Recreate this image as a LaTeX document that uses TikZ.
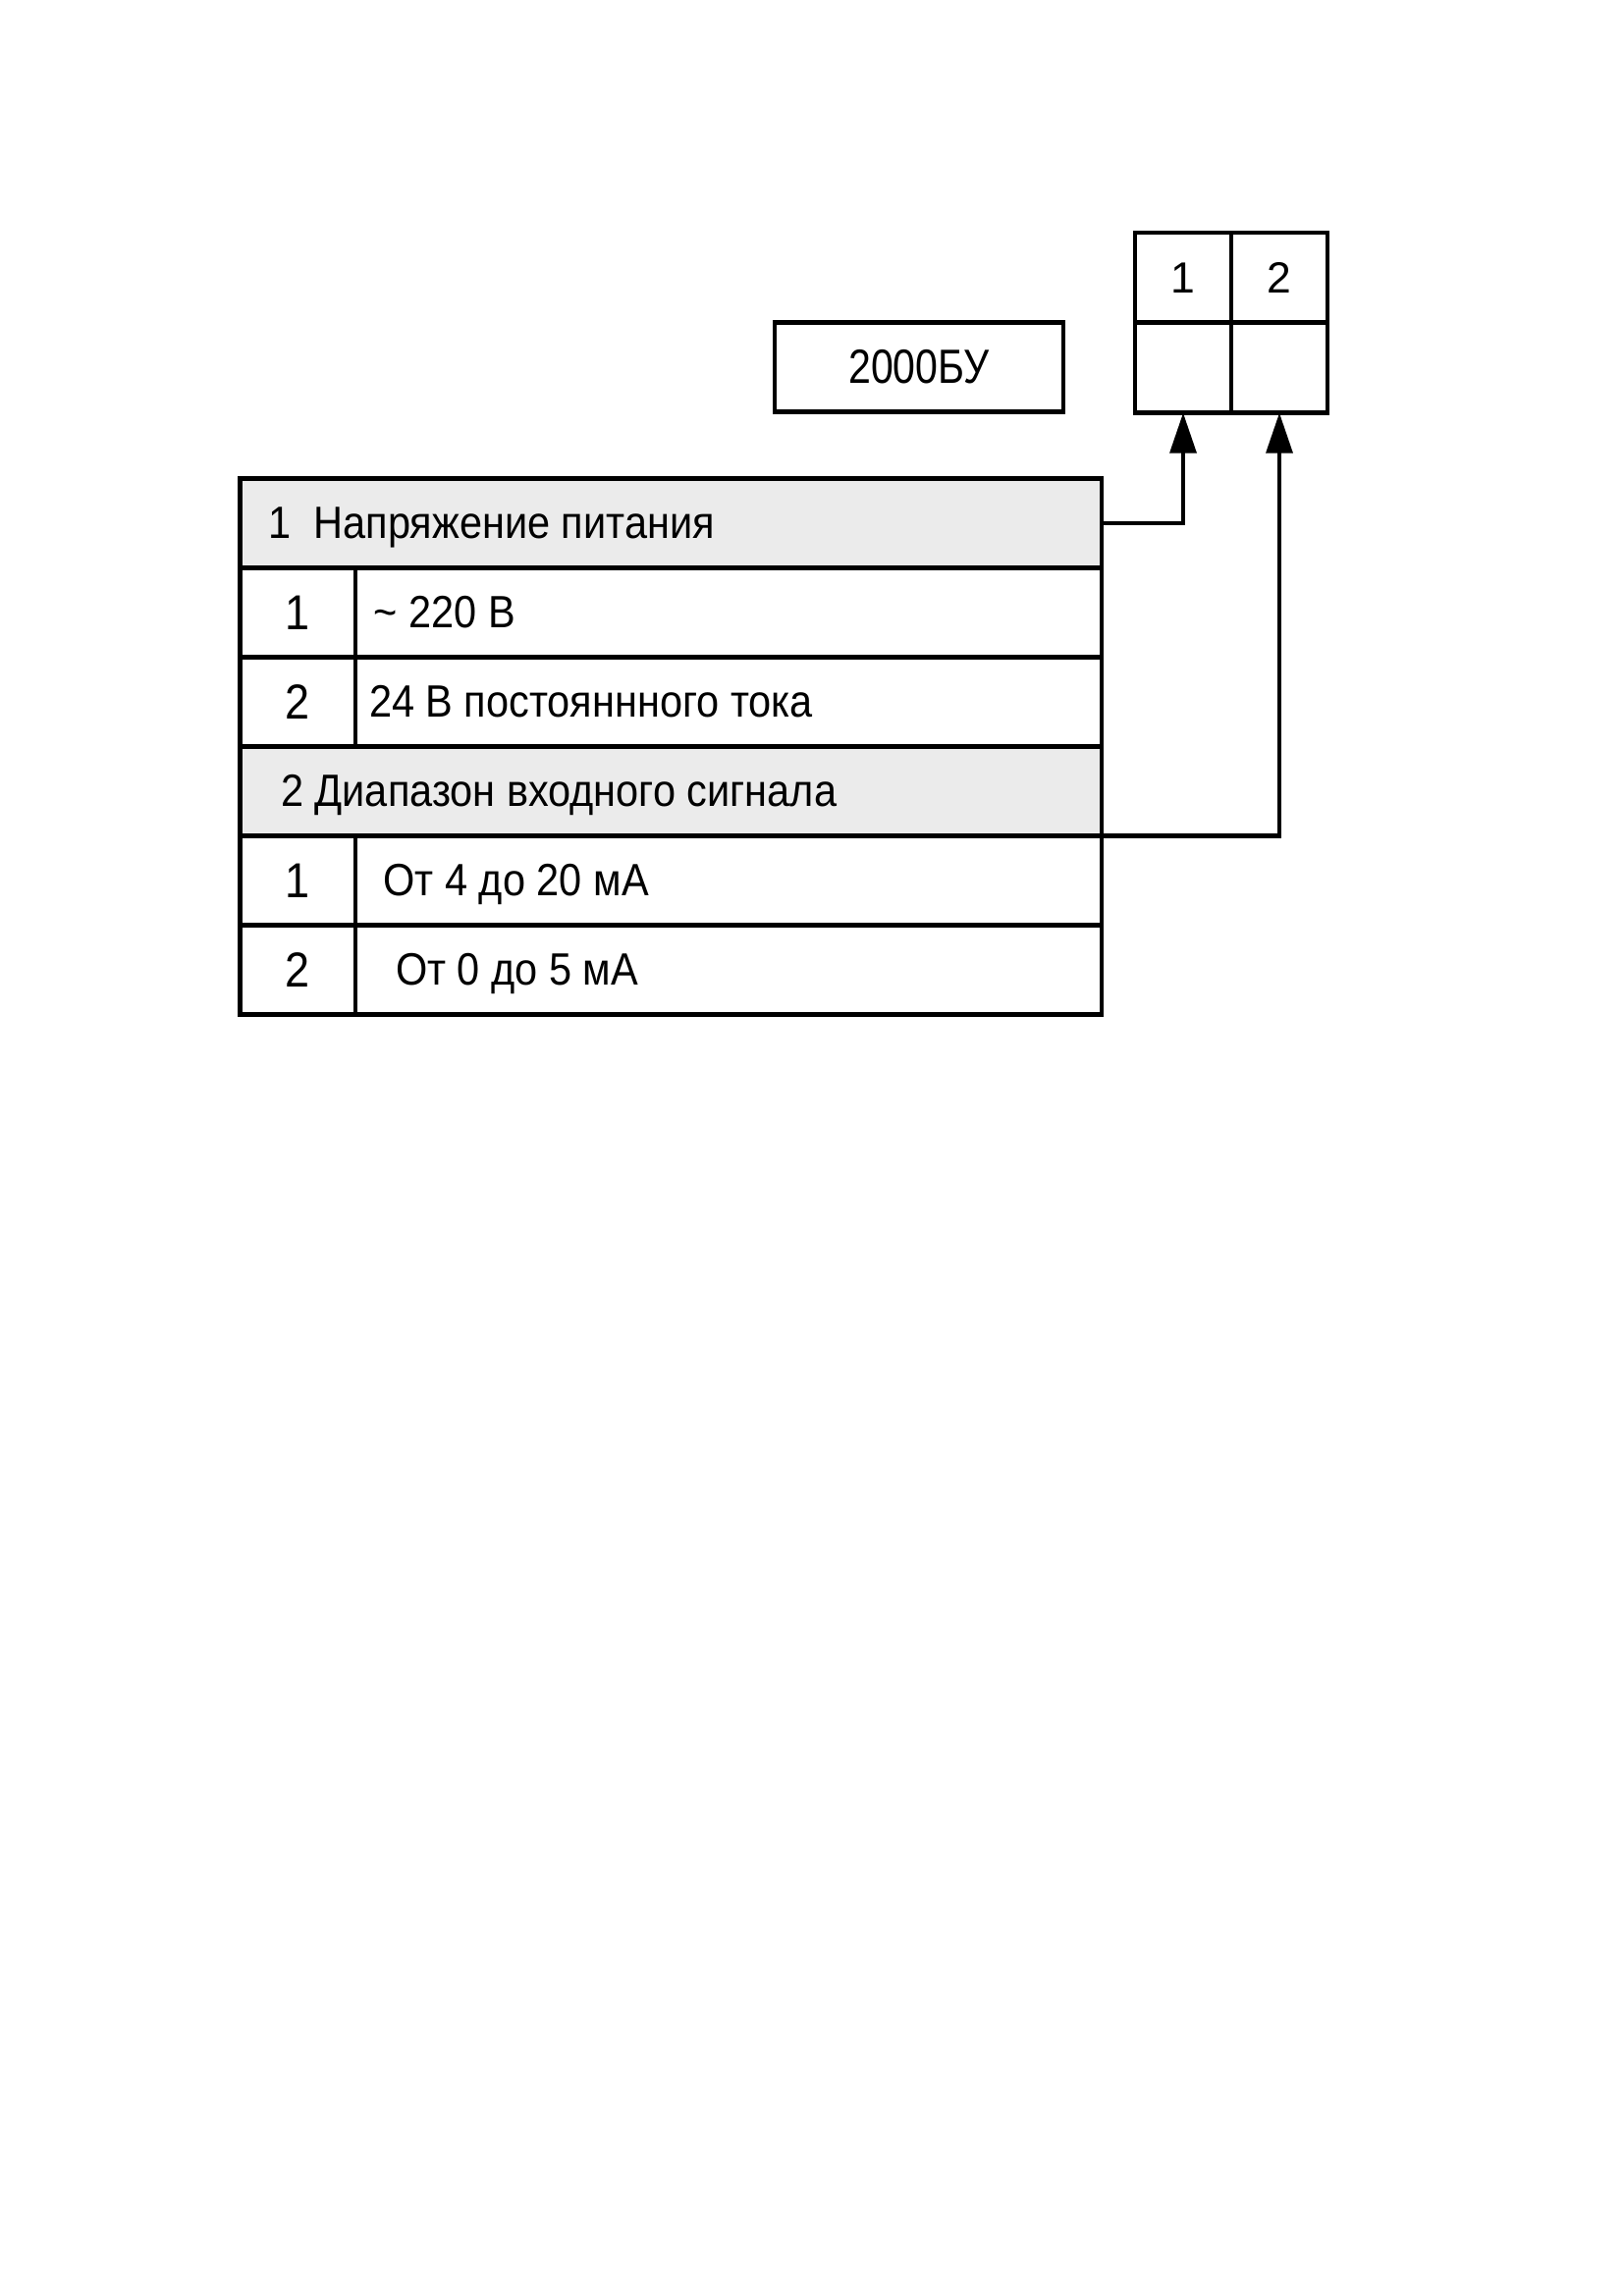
\documentclass[tikz,border=0pt]{standalone}
\usepackage{fontspec}
\setmainfont{Liberation Sans}
\newfontfamily\narrowsans{Liberation Sans}[FakeStretch=0.9]
\newfontfamily\narrowersans{Liberation Sans}[FakeStretch=0.84]
\usetikzlibrary{arrows.meta}
\definecolor{headgray}{gray}{0.92}
\newcommand{\pxu}{0.3599pt}

\tikzset{
  cell/.style={draw,line width=1.6pt,inner sep=0pt,outer sep=0pt,minimum height=91*\pxu},
  headcell/.style={cell,fill=headgray,minimum width=877.5*\pxu},
  numcell/.style={cell,minimum width=117.5*\pxu,font=\narrowsans\fontsize{18}{22}\selectfont},
  txtcell/.style={cell,minimum width=760*\pxu},
  rowtext/.style={anchor=base west,inner sep=0pt,font=\narrowsans\fontsize{16.6}{20}\selectfont},
  pincell/.style={cell,minimum width=98*\pxu,minimum height=92*\pxu,font=\fontsize{16}{19}\selectfont},
  link/.style={line width=1.6pt,-{Triangle[length=14.8pt,width=9.6pt]}}
}

\begin{document}
\begin{tikzpicture}[x=\pxu,y=-\pxu]
  \useasboundingbox (0,0) rectangle (1654,2339);
  % device code and connector
  \node[cell,minimum width=294*\pxu,font=\narrowersans\fontsize{17.6}{21}\selectfont] (model) at (936,374) {2000БУ};
  \node[pincell] (c1) at (1205,283) {1};
  \node[pincell] (c2) at (1303,283) {2};
  \node[pincell] (p1) at (1205,374.5) {};
  \node[pincell] (p2) at (1303,374.5) {};
  % table
  \node[headcell] (h1) at (683.25,533) {};
  \node[numcell] (n11) at (303.25,624) {1};
  \node[txtcell] (t11) at (742,624) {};
  \node[numcell] (n12) at (303.25,715) {2};
  \node[txtcell] (t12) at (742,715) {};
  \node[headcell] (h2) at (683.25,806) {};
  \node[numcell] (n21) at (303.25,897) {1};
  \node[txtcell] (t21) at (742,897) {};
  \node[numcell] (n22) at (303.25,988) {2};
  \node[txtcell] (t22) at (742,988) {};
  \node[rowtext] (h1t) at (273,548) {1~~Напряжение питания};
  \node[rowtext] (t11t) at (380,639) {\textasciitilde{} 220 В};
  \node[rowtext] (t12t) at (375.5,730) {24 В постояннного тока};
  \node[rowtext] (h2t) at (285.5,821) {2 Диапазон входного сигнала};
  \node[rowtext] (t21t) at (390,912) {От 4 до 20 мА};
  \node[rowtext] (t22t) at (402.5,1003) {От 0 до 5 мА};
  % links
  \draw[link] (h1.east) -| (p1.south);
  \draw[link] (h2.south east) -| (p2.south);
\end{tikzpicture}
\end{document}
